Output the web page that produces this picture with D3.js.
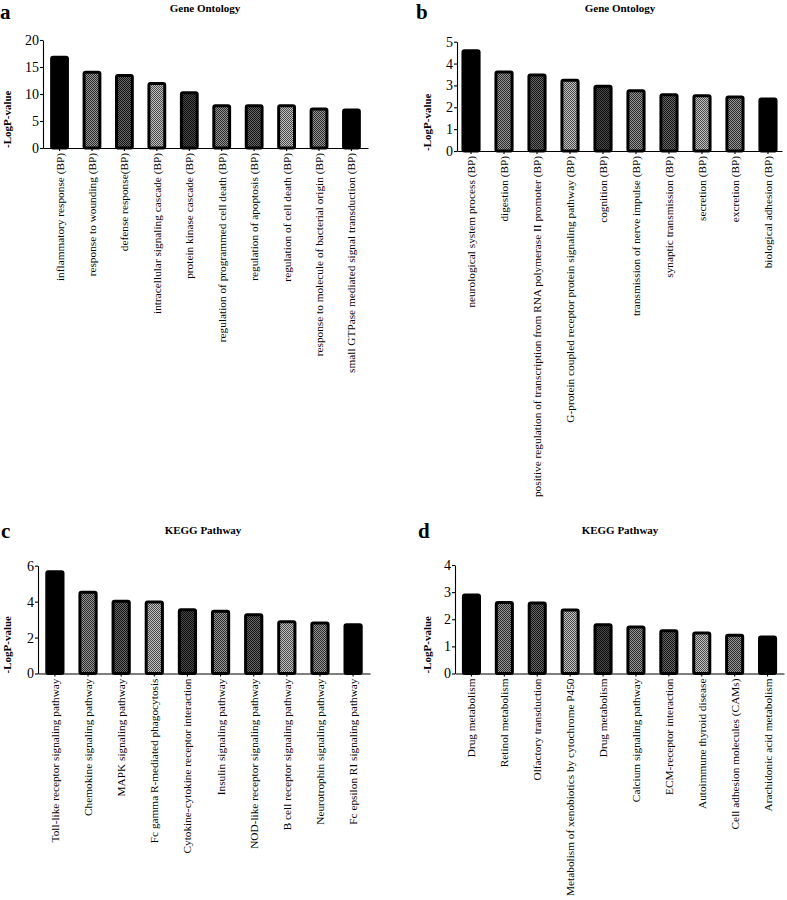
<!DOCTYPE html>
<meta charset="utf-8">
<html>
<head>
  <script src="https://d3js.org/d3.v7.min.js"></script>
  <style>
    body { margin: 0; background: #fff; }
    svg text { font-family: 'Liberation Serif', 'Times New Roman', serif; fill: #000; }
    .axis path, .axis line { stroke: #000; stroke-width: 1.1; }
    .y-axis text { font-size: 14px; }
    .x-axis text { font-size: 11.3px; }
    .title { font-size: 11px; font-weight: bold; }
    .letter { font-size: 21px; font-weight: bold; }
    .ylab { font-size: 11px; font-weight: bold; }
    .bar { stroke: #000; stroke-width: 3; }
  </style>
</head>
<body>
<script>
// Panel a - Gene Ontology
var catsA = ['inflammatory response (BP)', 'response to wounding (BP)', 'defense response(BP)',
  'intracellular signaling cascade (BP)', 'protein kinase cascade (BP)',
  'regulation of programmed cell death (BP)', 'regulation of apoptosis (BP)',
  'regulation of cell death (BP)', 'response to molecule of bacterial origin (BP)',
  'small GTPase mediated signal transduction (BP)'];
var valsA = [17.1, 14.3, 13.7, 12.2, 10.5, 8.1, 8.1, 8.1, 7.5, 7.3];
var ticksA = [0, 5, 10, 15, 20];

// Panel b - Gene Ontology
var catsB = ['neurological system process (BP)', 'digestion (BP)',
  'positive regulation of transcription from RNA polymerase II promoter (BP)',
  'G-protein coupled receptor protein signaling pathway (BP)', 'cognition (BP)',
  'transmission of nerve impulse (BP)', 'synaptic transmission (BP)', 'secretion (BP)',
  'excretion (BP)', 'biological adhesion (BP)'];
var valsB = [4.65, 3.68, 3.55, 3.3, 3.03, 2.83, 2.64, 2.6, 2.54, 2.45];
var ticksB = [0, 1, 2, 3, 4, 5];

// Panel c - KEGG
var catsC = ['Toll-like receptor signaling pathway', 'Chemokine signaling pathway',
  'MAPK signaling pathway', 'Fc gamma R-mediated phagocytosis',
  'Cytokine-cytokine receptor interaction', 'Insulin signaling pathway',
  'NOD-like receptor signaling pathway', 'B cell receptor signaling pathway',
  'Neurotrophin signaling pathway', 'Fc epsilon RI signaling pathway'];
var valsC = [5.75, 4.6, 4.1, 4.07, 3.63, 3.55, 3.35, 2.97, 2.9, 2.8];
var ticksC = [0, 2, 4, 6];

// Panel d - KEGG
var catsD = ['Drug metabolism', 'Retinol metabolism', 'Olfactory transduction',
  'Metabolism of xenobiotics by cytochrome P450', 'Drug metabolism',
  'Calcium signaling pathway', 'ECM-receptor interaction', 'Autoimmune thyroid disease',
  'Cell adhesion molecules (CAMs)', 'Arachidonic acid metabolism'];
var valsD = [2.95, 2.67, 2.65, 2.4, 1.85, 1.77, 1.63, 1.55, 1.47, 1.4];
var ticksD = [0, 1, 2, 3, 4];

// fill style per bar position (same sequence in every panel)
var fillOrder = ['black', 'med', 'dark', 'light', 'darker', 'med', 'dark', 'light', 'med', 'black'];

var svg = d3.select('body').append('svg')
  .attr('width', 787).attr('height', 900);

// checker patterns
var checks = {
  med: ['#2a2a2a', '#959595'],
  dark: ['#141414', '#666'],
  light: ['#4a4a4a', '#c0c0c0'],
  darker: ['#0c0c0c', '#4a4a4a']
};
var defs = svg.append('defs');
Object.keys(checks).forEach(function(k) {
  var p = defs.append('pattern').attr('id', 'p-' + k)
    .attr('patternUnits', 'userSpaceOnUse').attr('width', 2).attr('height', 2);
  p.append('rect').attr('width', 2).attr('height', 2).attr('fill', checks[k][1]);
  p.append('rect').attr('width', 1).attr('height', 1).attr('fill', checks[k][0]);
  p.append('rect').attr('x', 1).attr('y', 1).attr('width', 1).attr('height', 1).attr('fill', checks[k][0]);
});
function fillOf(i) {
  return fillOrder[i] === 'black' ? '#000' : 'url(#p-' + fillOrder[i] + ')';
}

var panels = [
  { letter: 'a', title: 'Gene Ontology', cats: catsA, vals: valsA, ticks: ticksA,
    x0: 43, x1: 368, yTop: 40, yBot: 148, po: 0.22,
    lx: 0, ly: 19, tx: 205, ty: 12, labX: 11 },
  { letter: 'b', title: 'Gene Ontology', cats: catsB, vals: valsB, ticks: ticksB,
    x0: 457, x1: 782, yTop: 41.7, yBot: 151, po: 0.135,
    lx: 416, ly: 19, tx: 620, ty: 12, labX: 431 },
  { letter: 'c', title: 'KEGG Pathway', cats: catsC, vals: valsC, ticks: ticksC,
    x0: 38, x1: 370, yTop: 565.7, yBot: 673.5, po: 0.22,
    lx: 1, ly: 538, tx: 203, ty: 534, labX: 11 },
  { letter: 'd', title: 'KEGG Pathway', cats: catsD, vals: valsD, ticks: ticksD,
    x0: 455, x1: 784, yTop: 565, yBot: 673.5, po: 0.21,
    lx: 418, ly: 538, tx: 620, ty: 534, labX: 431 }
];

panels.forEach(function(p) {
  var g = svg.append('g');
  var idx = d3.range(p.cats.length);

  var x = d3.scaleBand()
    .domain(idx)
    .range([p.x0, p.x1])
    .paddingInner(0.42)
    .paddingOuter(p.po);

  var y = d3.scaleLinear()
    .domain([0, d3.max(p.ticks)])
    .range([p.yBot, p.yTop]);

  // bars
  g.selectAll('rect.bar')
    .data(idx)
    .enter()
    .append('rect')
    .attr('class', 'bar')
    .attr('x', i => x(i) + 1.5)
    .attr('width', x.bandwidth() - 3)
    .attr('y', i => y(p.vals[i]) + 1.5)
    .attr('height', i => p.yBot - y(p.vals[i]) - 1.5)
    .attr('rx', 1.5)
    .attr('fill', i => fillOf(i));

  // y axis
  g.append('g')
    .attr('class', 'axis y-axis')
    .attr('transform', `translate(${p.x0},0)`)
    .call(d3.axisLeft(y).tickValues(p.ticks).tickFormat(d3.format('d'))
      .tickSize(3).tickSizeOuter(0).tickPadding(1));

  // x axis
  var xa = g.append('g')
    .attr('class', 'axis x-axis')
    .attr('transform', `translate(0,${p.yBot})`)
    .call(d3.axisBottom(x).tickSize(3).tickSizeOuter(0).tickFormat(i => p.cats[i]));
  xa.selectAll('text')
    .attr('transform', 'rotate(-90)')
    .attr('text-anchor', 'end')
    .attr('x', -5)
    .attr('y', 0)
    .attr('dy', '0.35em');

  // titles
  g.append('text').attr('class', 'letter')
    .attr('x', p.lx).attr('y', p.ly).text(p.letter);
  g.append('text').attr('class', 'title')
    .attr('x', p.tx).attr('y', p.ty).attr('text-anchor', 'middle').text(p.title);
  g.append('text').attr('class', 'ylab')
    .attr('transform', `translate(${p.labX},${p.yBot}) rotate(-90)`)
    .text('-LogP-value');
});
</script>
</body>
</html>
